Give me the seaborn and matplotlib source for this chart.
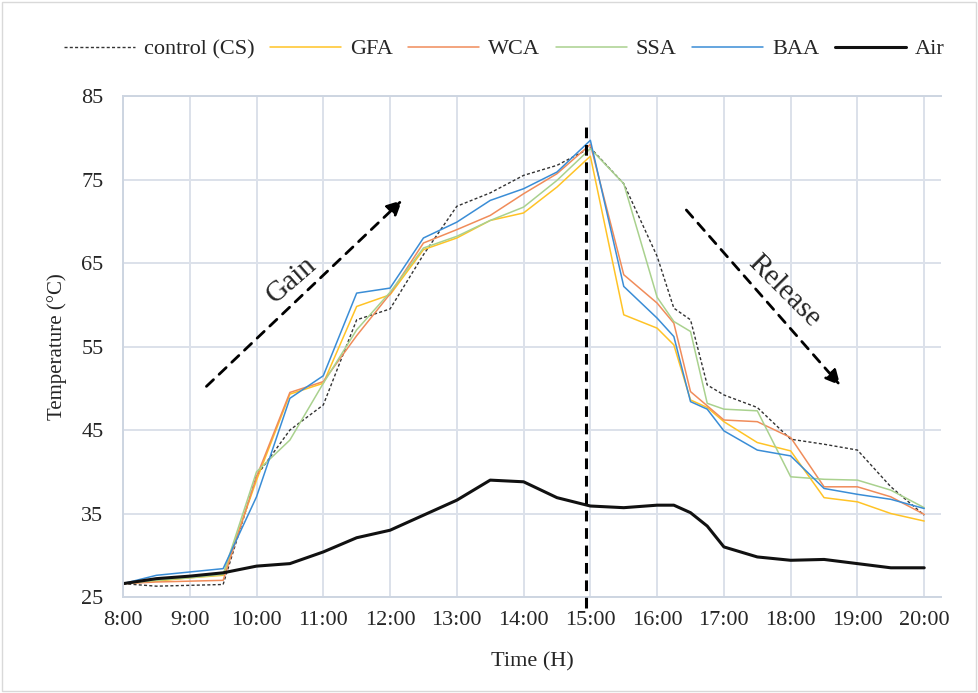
import matplotlib
matplotlib.use("Agg")
import matplotlib.pyplot as plt
import matplotlib.patches as mpatches
import seaborn as sns

times = ["8:00", "8:30", "9:00", "9:30", "10:00", "10:30", "11:00", "11:30",
         "12:00", "12:30", "13:00", "13:30", "14:00", "14:30", "15:00", "15:30",
         "16:00", "16:15", "16:30", "16:45", "17:00", "17:30", "18:00", "18:30",
         "19:00", "19:30", "20:00"]

control = [26.6, 26.3, 26.4, 26.5, 39.5, 45.0, 48.0, 58.2, 59.5, 66.0, 71.8, 73.4, 75.5, 76.7,
           78.8, 74.5, 65.8, 59.6, 58.2, 50.4, 49.2, 47.7, 43.9, 43.3, 42.6, 38.2, 34.8]
gfa = [26.6, 26.9, 27.3, 27.6, 39.0, 49.3, 50.6, 59.8, 61.2, 66.6, 68.0, 70.1, 71.0, 74.1,
       77.8, 58.8, 57.2, 55.2, 48.6, 47.7, 46.0, 43.5, 42.5, 36.9, 36.4, 35.0, 34.1]
wca = [26.6, 26.8, 26.9, 27.0, 39.4, 49.5, 50.8, 56.3, 61.3, 67.4, 69.0, 70.7, 73.3, 75.7,
       79.2, 63.6, 60.2, 57.8, 49.6, 47.9, 46.2, 46.0, 44.1, 38.2, 38.2, 37.0, 34.9]
ssa = [26.6, 27.0, 27.3, 27.7, 40.0, 43.8, 50.6, 57.0, 61.5, 66.8, 68.2, 70.1, 71.7, 74.9,
       78.7, 74.5, 60.9, 58.0, 56.8, 48.2, 47.5, 47.3, 39.4, 39.1, 39.0, 37.8, 35.7]
baa = [26.6, 27.6, 28.0, 28.4, 37.0, 48.8, 51.5, 61.4, 62.0, 68.0, 69.9, 72.5, 73.9, 75.9,
       79.7, 62.2, 58.4, 56.2, 48.4, 47.5, 44.9, 42.6, 41.9, 38.0, 37.3, 36.7, 35.6]
air = [26.6, 27.2, 27.5, 27.9, 28.7, 29.0, 30.4, 32.1, 33.0, 34.8, 36.6, 39.0, 38.8, 36.9,
       35.9, 35.7, 36.0, 36.0, 35.1, 33.5, 31.0, 29.8, 29.4, 29.5, 29.0, 28.5, 28.5]

hour_ticks = list(range(8, 21))
hour_labels = [f"{h}:00" for h in hour_ticks]

sns.set_style("white")
plt.rcParams['font.family'] = ['Liberation Serif', 'DejaVu Serif']

hours = [int(t.split(":")[0]) + int(t.split(":")[1]) / 60 for t in times]

fig = plt.figure(figsize=(9.79, 6.93), dpi=100)
ax = fig.add_axes([0.1256, 0.1385, 0.8355, 0.7229])

series = [
    ("control (CS)", control, "#333333", (0, (2.2, 1.6)), 1.0),
    ("GFA", gfa, "#FFC326", "-", 1.1),
    ("WCA", wca, "#F08C5A", "-", 1.1),
    ("SSA", ssa, "#A9D18E", "-", 1.1),
    ("BAA", baa, "#3A8DD6", "-", 1.1),
    ("Air", air, "#111111", "-", 2.2),
]
for name, vals, color, ls, lw in series:
    sns.lineplot(x=hours, y=vals, ax=ax, color=color, linestyle=ls,
                 linewidth=lw, label=name, sort=False)

ax.set_xlim(8, 20.25)
ax.set_ylim(25, 85)
ax.set_xticks(hour_ticks)
ax.set_xticklabels(hour_labels)
ax.set_yticks(range(25, 86, 10))
ax.tick_params(axis='both', length=0, labelsize=16)
ax.tick_params(axis='y', pad=14)
ax.tick_params(axis='x', pad=10)
ax.grid(True, color='#DCE1EA', linewidth=1.4)
ax.set_axisbelow(True)
for side in ['left', 'bottom', 'top']:
    ax.spines[side].set_color('#CDD5E1')
    ax.spines[side].set_linewidth(1.4)
ax.spines['right'].set_visible(False)

ax.set_xlabel("Time (H)", fontsize=16, labelpad=16)
ax.set_ylabel("Temperature (°C)", fontsize=15, labelpad=10)

# dashed split line at 15:00
ax.axvline(14.94, ymin=-0.022, ymax=0.948, color='black', lw=2.2,
           linestyle=(0, (3.5, 2.2)), clip_on=False, zorder=5)

# gain / release arrows
arrow_kw = dict(arrowstyle='-|>', color='black', lw=2.0,
                linestyle=(0, (3.5, 2.8)), mutation_scale=22)
ax.annotate('', xy=(12.21, 72.75), xytext=(9.22, 50.0), arrowprops=arrow_kw)
ax.annotate('', xy=(18.77, 50.1), xytext=(16.41, 71.6), arrowprops=arrow_kw)
ax.text(10.53, 63.0, "Gain", fontsize=21, rotation=41, ha='center', va='center')
ax.text(17.90, 61.6, "Release", fontsize=21, rotation=-45, ha='center', va='center')

handles, labels = ax.get_legend_handles_labels()
ax.get_legend().remove()
fig.legend(handles, labels, loc='center', bbox_to_anchor=(0.515, 0.929), ncol=6,
           frameon=False, fontsize=16, handlelength=3.2, handletextpad=0.4,
           columnspacing=0.7)

fig.patches.append(mpatches.Rectangle((0.002, 0.003), 0.995, 0.994, transform=fig.transFigure,
                                      fill=False, edgecolor='#D9D9D9', lw=1.0))

fig.savefig("out.png", dpi=100)
